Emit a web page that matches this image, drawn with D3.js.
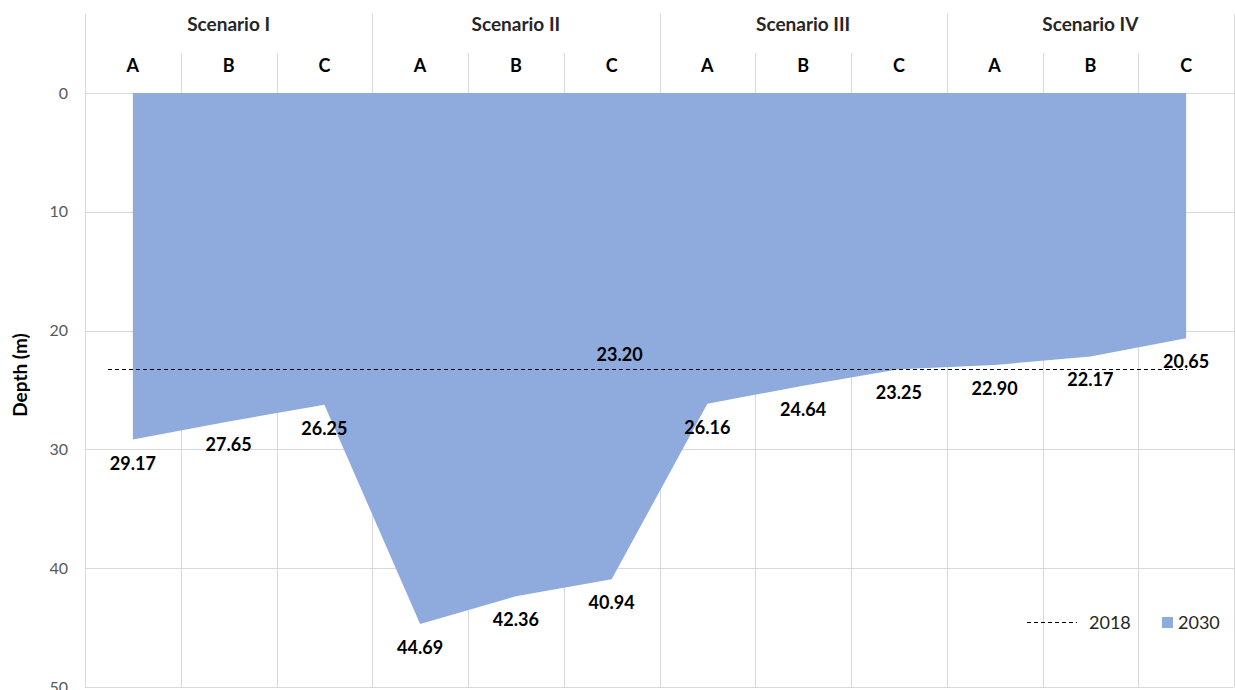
<!DOCTYPE html>
<html>
<head>
<meta charset="utf-8">
<script src="https://cdn.jsdelivr.net/npm/d3@7"></script>
<style>
  html, body { margin: 0; padding: 0; background: #fff; }
  svg { display: block; font-family: Lato, "Open Sans", sans-serif; }
</style>
</head>
<body>
<svg id="chart" width="1235" height="690"></svg>
<script>
// Scenario groups and the three cases inside each one
const scenarios = ["Scenario I", "Scenario II", "Scenario III", "Scenario IV"];
const cases = ["A", "B", "C"];
// Depth in 2030 for each scenario/case pair (m)
const depth2030 = [29.17, 27.65, 26.25, 44.69, 42.36, 40.94, 26.16, 24.64, 23.25, 22.90, 22.17, 20.65];
// Reference depth in 2018 (m)
const depth2018 = 23.20;
// Index of the category where the 2018 value is labelled
const label2018At = 5;
const depthTicks = [0, 10, 20, 30, 40, 50];
const seriesNames = ["2018", "2030"];

(function () {
const categories = [];
scenarios.forEach((s, si) => cases.forEach(c => categories.push({ scenario: s, si, c })));

const svg = d3.select("#chart");
const plotLeft = 85, plotRight = 1234, plotTop = 93, plotBottom = 687, headerTop = 14, caseTop = 53;
const gridColor = "#d9d9d9";
const fillColor = "#8faadc";

const x = d3.scaleBand().domain(d3.range(categories.length)).range([plotLeft, plotRight]);
const bw = x.bandwidth();
const cx = i => x(i) + bw / 2;
const y = d3.scaleLinear().domain([0, 50]).range([plotTop, plotBottom]);

// Horizontal gridlines
svg.append("g").selectAll("line").data(depthTicks).join("line")
  .attr("x1", plotLeft).attr("x2", plotRight)
  .attr("y1", d => Math.round(y(d)) + 0.5).attr("y2", d => Math.round(y(d)) + 0.5)
  .attr("stroke", gridColor).attr("stroke-width", 1);

// Vertical band boundaries; scenario edges run up through the header
const edges = d3.range(categories.length + 1);
const edgeX = i => Math.round(i < categories.length ? x(i) : plotRight) + 0.5;
svg.append("g").selectAll("line").data(edges).join("line")
  .attr("x1", edgeX).attr("x2", edgeX)
  .attr("y1", i => (i % cases.length === 0) ? headerTop : caseTop)
  .attr("y2", plotBottom)
  .attr("stroke", gridColor).attr("stroke-width", 1);

// Scenario headers
svg.append("g").selectAll("text").data(scenarios).join("text")
  .attr("x", (d, i) => x(i * cases.length) + bw * cases.length / 2)
  .attr("y", 31)
  .attr("text-anchor", "middle")
  .attr("font-size", 19).attr("font-weight", 700).attr("fill", "#262626")
  .text(d => d);

// Case letters
svg.append("g").selectAll("text").data(categories).join("text")
  .attr("x", (d, i) => cx(i))
  .attr("y", 72)
  .attr("text-anchor", "middle")
  .attr("font-size", 18).attr("font-weight", 700).attr("fill", "#000")
  .text(d => d.c);

// 2030 depth area, hanging from the surface
const area = d3.area()
  .x((d, i) => cx(i))
  .y0(y(0))
  .y1(d => y(d));
svg.append("path").datum(depth2030)
  .attr("d", area)
  .attr("fill", fillColor);

// 2018 reference line
const yRef = Math.round(y(depth2018)) + 0.5;
svg.append("line")
  .attr("x1", x(0) + bw * 0.24).attr("x2", cx(categories.length - 1) + 1)
  .attr("y1", yRef).attr("y2", yRef)
  .attr("stroke", "#000").attr("stroke-width", 1)
  .attr("stroke-dasharray", "4,3");

svg.append("text")
  .attr("x", cx(label2018At) + 8)
  .attr("y", y(depth2018) - 8)
  .attr("text-anchor", "middle")
  .attr("font-size", 18).attr("font-weight", 700).attr("fill", "#000")
  .text(depth2018.toFixed(2));

// 2030 value labels below each point
svg.append("g").selectAll("text").data(depth2030).join("text")
  .attr("x", (d, i) => cx(i))
  .attr("y", d => y(d) + 30)
  .attr("text-anchor", "middle")
  .attr("font-size", 18).attr("font-weight", 700).attr("fill", "#000")
  .text(d => d.toFixed(2));

// Depth axis
const axis = d3.axisLeft(y).tickValues(depthTicks).tickSize(0).tickPadding(17);
const ag = svg.append("g").attr("transform", `translate(${plotLeft},0)`).call(axis);
ag.select(".domain").remove();
ag.selectAll("text").attr("font-size", 16).attr("fill", "#595959").attr("font-family", "Lato, sans-serif");

svg.append("text")
  .attr("transform", `translate(27,${(plotTop + plotBottom) / 2 - 15}) rotate(-90)`)
  .attr("text-anchor", "middle")
  .attr("font-size", 19).attr("font-weight", 700).attr("fill", "#000")
  .text("Depth (m)");

// Legend
const lg = svg.append("g");
lg.append("line")
  .attr("x1", 1027).attr("x2", 1077).attr("y1", 622.5).attr("y2", 622.5)
  .attr("stroke", "#000").attr("stroke-dasharray", "4,3");
lg.append("text").attr("x", 1089).attr("y", 628.5).attr("font-size", 18).attr("fill", "#262626").text(seriesNames[0]);
lg.append("rect").attr("x", 1162).attr("y", 617).attr("width", 11).attr("height", 11).attr("fill", fillColor);
lg.append("text").attr("x", 1178).attr("y", 628.5).attr("font-size", 18).attr("fill", "#262626").text(seriesNames[1]);
})();
</script>
</body>
</html>
